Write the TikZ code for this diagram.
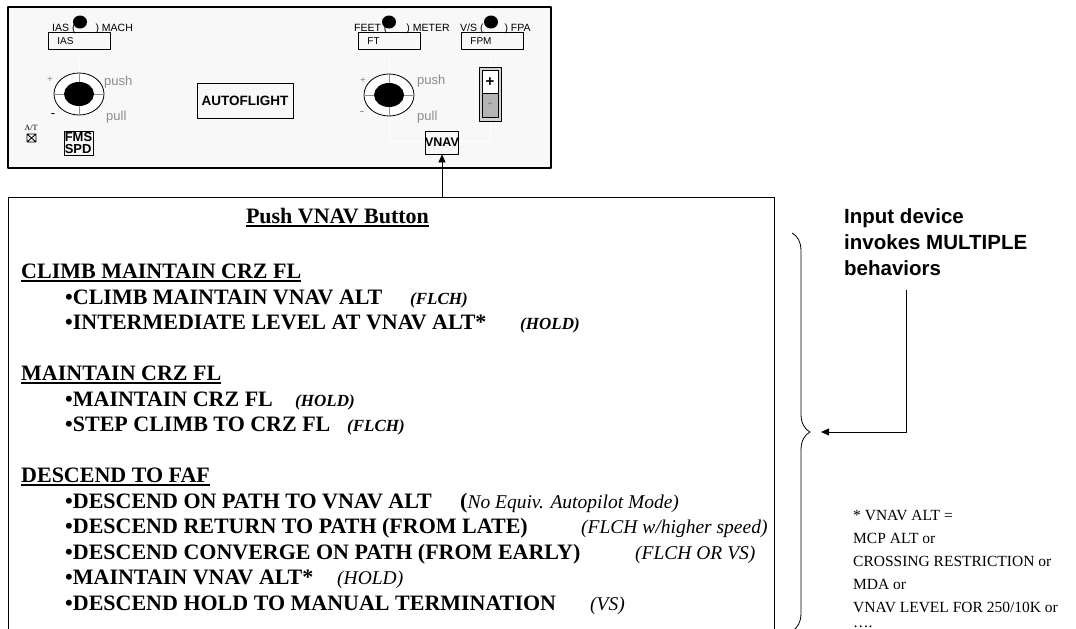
\documentclass[tikz,border=0pt]{standalone}
\usepackage{fontspec}
\setmainfont{Liberation Serif}
\setsansfont{Liberation Sans}
\usetikzlibrary{arrows.meta,decorations.pathreplacing}
\definecolor{panelbg}{HTML}{F8F8F8}
\definecolor{dialgray}{HTML}{8C8C8C}
\definecolor{rockgray}{HTML}{B4B4B4}
\newcommand{\undl}[1]{\setbox0\hbox{#1}\rlap{\rule[-3.5pt]{\wd0}{1.3pt}}\box0}

\begin{document}
\begin{tikzpicture}[x=1pt, y=-1pt, line join=round, >={Triangle[length=8pt,width=7pt]},
		lbl/.style={font=\sffamily\fontsize{10.5}{12}\selectfont, inner sep=0pt, anchor=base west},
		dim/.style={font=\sffamily\fontsize{13}{14}\selectfont, text=dialgray, inner sep=0pt},
		btn/.style={draw, line width=0.9pt, inner sep=0pt, font=\sffamily\bfseries\fontsize{12.5}{12.5}\selectfont},
		win/.style={draw, line width=0.8pt, minimum height=17pt, text width=44pt, inner xsep=9pt, inner ysep=0pt, align=left, anchor=north west, font=\sffamily\fontsize{10}{11}\selectfont},
		hd/.style={font=\bfseries\fontsize{22}{25}\selectfont, inner sep=0pt, anchor=base west},
		it/.style={font=\itshape\fontsize{19.5}{25}\selectfont, inner sep=0pt, anchor=base west},
		bit/.style={it, font=\bfseries\itshape\fontsize{17}{25}\selectfont},
		note/.style={font=\fontsize{15.5}{23}\selectfont, inner sep=0pt, anchor=base west}]
	\useasboundingbox (0,0) rectangle (1076,629);
	\clip (0,0) rectangle (1076,629);

	% control panel
	\draw[line width=1.5pt, fill=panelbg] (8,7) rectangle (551,168);
	\draw[white, line width=1pt] (79,58) -- (79,74);
	\draw[white, line width=1pt] (389,58) -- (389,141) -- (490,141) -- (490,58);

	% selector windows
	\node[win] (ias) at (48,32) {IAS};
	\node[win] (ft) at (358,32) {FT};
	\node[win] (fpm) at (461,32) {FPM};
	\node[lbl] (iaslbl) at (52,31) {IAS (\hspace{20pt}) MACH};
	\node[lbl] (ftlbl) at (354,31) {FEET (\hspace{19pt}) METER};
	\node[lbl] (fpmlbl) at (460,31) {V/S (\hspace{21pt}) FPA};
	\foreach \cx in {80,389,491}
		\fill (\cx,22) ellipse [x radius=7, y radius=6.5];

	% knobs
	\foreach \cx/\cy in {79/94, 389/95} {
		\draw[fill=white, line width=0.8pt] (\cx,\cy) ellipse [x radius=25, y radius=21];
		\draw[dialgray, line width=0.8pt] (\cx-25,\cy) -- (\cx+25,\cy) (\cx,\cy-21) -- (\cx,\cy+21);
		\fill (\cx,\cy) ellipse [x radius=15, y radius=12];
	}
	\node[dim, font=\sffamily\fontsize{10}{10}\selectfont] (spdup) at (50,80) {+};
	\node[dim, text=black] (spddn) at (53,116) {-};
	\node[dim, anchor=west] (spdpush) at (104,82) {push};
	\node[dim, anchor=west] (spdpull) at (106,117) {pull};
	\node[dim, font=\sffamily\fontsize{10}{10}\selectfont] (altup) at (363,81) {+};
	\node[dim] (altdn) at (362,114) {-};
	\node[dim, anchor=west] (altpush) at (417,81) {push};
	\node[dim, anchor=west] (altpull) at (417,117) {pull};

	% buttons
	\node[font=\fontsize{8}{8}\selectfont, inner sep=0pt] (at) at (31,128) {A/T};
	\draw[line width=0.9pt] (27,134) rectangle (36,142) (27,134) -- (36,142) (27,142) -- (36,134);
	\node[btn, minimum width=29pt, minimum height=24pt, align=left, font=\sffamily\bfseries\fontsize{13}{12.5}\selectfont] (fms) at (78.5,143) {FMS\\SPD};
	\node[btn, minimum width=96pt, minimum height=35pt, font=\sffamily\bfseries\fontsize{13.5}{14}\selectfont] (auto) at (245,100.5) {AUTOFLIGHT};
	\node[btn, minimum width=28pt, minimum height=23pt, font=\sffamily\bfseries\fontsize{12.5}{12}\selectfont] (vnav) at (442,142.5) {VNAV};

	% rocker
	\draw[line width=0.8pt, fill=panelbg!85!black] (479,67) rectangle (501,121);
	\draw[line width=0.8pt, fill=white] (482,70) rectangle (498,93);
	\draw[line width=0.8pt, fill=rockgray] (482,93) rectangle (498,117);
	\node[font=\sffamily\bfseries\fontsize{15}{15}\selectfont, inner sep=0pt] (plus) at (490,82) {+};
	\node[font=\sffamily\bfseries\fontsize{14}{14}\selectfont, text=dialgray, inner sep=0pt] (minus) at (490,105) {-};

	% behaviour box
	\draw[line width=1pt] (8,640) -- (8,197) -- (774,197) -- (774,640);
	\coordinate (boxtop) at (442,197);
	\draw[->, line width=0.8pt] (boxtop) -- (vnav.south);

	\node[hd, anchor=base] (title) at (337.5,223) {\undl{Push VNAV Button}};

	\node[hd] (climb) at (21,278) {\undl{CLIMB MAINTAIN CRZ FL}};
	\node[hd] (climbA) at (65,304) {•CLIMB MAINTAIN VNAV ALT};
	\node[bit] (climbAm) at (410,304) {(FLCH)};
	\node[hd] (climbB) at (65,329) {•INTERMEDIATE LEVEL AT VNAV ALT*};
	\node[bit] (climbBm) at (520,329) {(HOLD)};

	\node[hd] (cruise) at (21,380) {\undl{MAINTAIN CRZ FL}};
	\node[hd] (cruiseA) at (65,406) {•MAINTAIN CRZ FL};
	\node[bit] (cruiseAm) at (295,406) {(HOLD)};
	\node[hd] (cruiseB) at (65,431) {•STEP CLIMB TO CRZ FL};
	\node[bit] (cruiseBm) at (347,431) {(FLCH)};

	\node[hd] (desc) at (21,482) {\undl{DESCEND TO FAF}};
	\node[hd] (descA) at (65,508) {•DESCEND ON PATH TO VNAV ALT};
	\node[it] (descAm) at (460,508) {{\upshape\bfseries\fontsize{22}{25}\selectfont(}No Equiv. Autopilot Mode)};
	\node[hd] (descB) at (65,533) {•DESCEND RETURN TO PATH (FROM LATE)};
	\node[it] (descBm) at (581,533) {(FLCH w/higher speed)};
	\node[hd] (descC) at (65,559) {•DESCEND CONVERGE ON PATH (FROM EARLY)};
	\node[it] (descCm) at (635,559) {(FLCH OR VS)};
	\node[hd] (descD) at (65,584) {•MAINTAIN VNAV ALT*};
	\node[it] (descDm) at (337,584) {(HOLD)};
	\node[hd] (descE) at (65,610) {•DESCEND HOLD TO MANUAL TERMINATION};
	\node[it] (descEm) at (590,610) {(VS)};

	% annotation
	\node[font=\sffamily\bfseries\fontsize{20.5}{26}\selectfont, align=left, anchor=north west, inner sep=0pt] (input) at (844,208) {Input device\\invokes MULTIPLE\\behaviors};
	\coordinate (inarr) at (906,290);
	\coordinate (brtip) at (821,432);
	\draw[->, line width=0.8pt] (inarr) |- (brtip);
	\draw[decorate, decoration={brace, amplitude=18pt}, line width=0.8pt] (792,233) -- (792,631);

	\foreach \t [count=\i from 0] in {* VNAV ALT =, MCP ALT or, CROSSING RESTRICTION or, MDA or, VNAV LEVEL FOR 250/10K or}
		\node[note] (alt\i) at (853,{520+23*\i}) {\t};
	\node[note] (alt5) at (853,627) {….};
\end{tikzpicture}
\end{document}
